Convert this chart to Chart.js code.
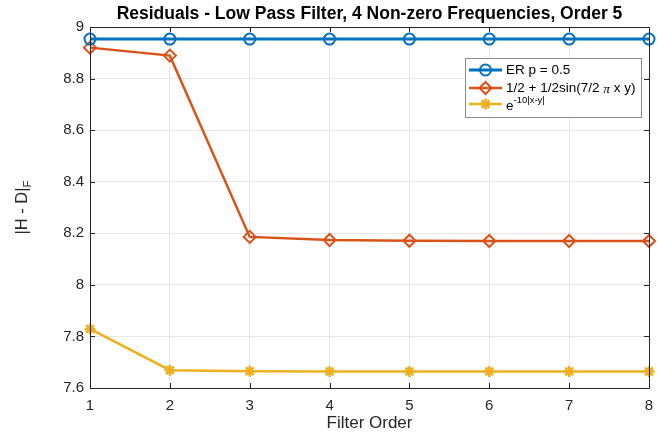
<!DOCTYPE html>
<html>
<head>
<meta charset="utf-8">
<script src="https://cdn.jsdelivr.net/npm/chart.js@4.4.1/dist/chart.umd.min.js"></script>
<style>
  html, body { margin: 0; padding: 0; background: #ffffff; }
  #wrap { width: 658px; height: 434px; }
</style>
</head>
<body>
<div id="wrap"><canvas id="c" width="658" height="434"></canvas></div>
<script>
// Filter orders on the x axis
const filterOrders = [1, 2, 3, 4, 5, 6, 7, 8];

// Residual norm ||H - D||_F per filter order, one array per graph model
const erValues   = [8.953, 8.953, 8.953, 8.953, 8.953, 8.953, 8.953, 8.953];
const sinValues  = [8.920, 8.889, 8.186, 8.174, 8.171, 8.170, 8.170, 8.170];
const expValues  = [7.829, 7.669, 7.665, 7.664, 7.664, 7.664, 7.664, 7.664];

const yTicks = [7.6, 7.8, 8, 8.2, 8.4, 8.6, 8.8, 9];

const BLUE = '#0072BD', ORANGE = '#D95319', YELLOW = '#EDB120';
const AXIS = '#262626';
const FONT = '"Liberation Sans", Arial, Helvetica, sans-serif';

function pts(vals) { return vals.map((v, i) => ({ x: filterOrders[i], y: v })); }

// Box, inward ticks, title, y label with subscript, legend
const decorations = {
  id: 'decorations',
  afterDraw(chart) {
    const { ctx, chartArea: a, scales } = chart;
    const xs = scales.x, ys = scales.y;
    ctx.save();
    ctx.strokeStyle = AXIS;
    ctx.lineWidth = 1;
    // axes box
    ctx.beginPath();
    ctx.rect(Math.round(a.left) + 0.5, Math.round(a.top) + 0.5,
             Math.round(a.right - a.left), Math.round(a.bottom - a.top));
    ctx.stroke();
    // inward tick marks on all four sides
    const tl = 5;
    ctx.beginPath();
    filterOrders.forEach(v => {
      const px = Math.round(xs.getPixelForValue(v)) + 0.5;
      ctx.moveTo(px, a.bottom); ctx.lineTo(px, a.bottom - tl);
      ctx.moveTo(px, a.top); ctx.lineTo(px, a.top + tl);
    });
    yTicks.forEach(v => {
      const py = Math.round(ys.getPixelForValue(v)) + 0.5;
      ctx.moveTo(a.left, py); ctx.lineTo(a.left + tl, py);
      ctx.moveTo(a.right, py); ctx.lineTo(a.right - tl, py);
    });
    ctx.stroke();

    // title
    ctx.fillStyle = '#000';
    ctx.font = 'bold 17.5px ' + FONT;
    ctx.textAlign = 'center';
    ctx.textBaseline = 'middle';
    ctx.fillText('Residuals - Low Pass Filter, 4 Non-zero Frequencies, Order 5', (a.left + a.right) / 2, 14);

    // y axis label |H - D|_F
    ctx.save();
    ctx.translate(22, (a.top + a.bottom) / 2);
    ctx.rotate(-Math.PI / 2);
    ctx.fillStyle = AXIS;
    const main = '|H - D|';
    ctx.font = '16.5px ' + FONT;
    const wMain = ctx.measureText(main).width;
    ctx.font = '11.5px ' + FONT;
    const wSub = ctx.measureText('F').width;
    const x0 = -(wMain + wSub) / 2;
    ctx.textAlign = 'left';
    ctx.textBaseline = 'middle';
    ctx.font = '16.5px ' + FONT;
    ctx.fillText(main, x0, 0);
    ctx.font = '11.5px ' + FONT;
    ctx.fillText('F', x0 + wMain, 6);
    ctx.restore();

    // legend
    const lx = 465.5, ly = 58.5, lw = 176, lh = 59;
    ctx.fillStyle = '#fff';
    ctx.fillRect(lx, ly, lw, lh);
    ctx.strokeStyle = '#8c8c8c';
    ctx.lineWidth = 1;
    ctx.strokeRect(lx, ly, lw, lh);
    const rows = [
      { ds: chart.data.datasets[0], y: 70 },
      { ds: chart.data.datasets[1], y: 88 },
      { ds: chart.data.datasets[2], y: 104 }
    ];
    rows.forEach(r => {
      const ds = r.ds;
      ctx.strokeStyle = ds.borderColor;
      ctx.lineWidth = ds.borderWidth;
      ctx.beginPath();
      ctx.moveTo(469, r.y); ctx.lineTo(502, r.y);
      ctx.stroke();
      ctx.strokeStyle = ds.pointBorderColor;
      ctx.fillStyle = ds.pointBackgroundColor;
      ctx.lineWidth = ds.pointBorderWidth;
      Chart.helpers.drawPoint(ctx, {
        pointStyle: ds.pointStyle, radius: ds.pointRadius, rotation: 0,
        borderWidth: ds.pointBorderWidth
      }, 485.5, r.y);
    });
    ctx.fillStyle = '#000';
    ctx.textAlign = 'left';
    ctx.textBaseline = 'middle';
    ctx.font = '13.5px ' + FONT;
    ctx.fillText('ER p = 0.5', 506, 70);
    // 1/2 + 1/2sin(7/2 π x y)
    let tx = 506;
    const p1 = '1/2 + 1/2sin(7/2 ';
    ctx.fillText(p1, tx, 88);
    tx += ctx.measureText(p1).width;
    ctx.font = 'italic 13.5px "Liberation Serif", "DejaVu Serif", serif';
    ctx.fillText('\u03C0', tx, 89);
    tx += ctx.measureText('\u03C0').width;
    ctx.font = '13.5px ' + FONT;
    ctx.fillText(' x y)', tx, 88);
    // e^{-10|x-y|}
    ctx.fillText('e', 506, 106);
    const we = ctx.measureText('e').width;
    ctx.font = '9.5px ' + FONT;
    ctx.fillText('-10|x-y|', 506 + we, 100);
    ctx.restore();
  }
};

const chart = new Chart(document.getElementById('c'), {
  type: 'line',
  data: {
    datasets: [
      {
        label: 'ER p = 0.5', data: pts(erValues),
        borderColor: BLUE, borderWidth: 3,
        pointStyle: 'circle', pointRadius: 5.5, pointBorderWidth: 2,
        pointBorderColor: BLUE, pointBackgroundColor: 'rgba(0,0,0,0)'
      },
      {
        label: '1/2 + 1/2sin(7/2 \u03C0 x y)', data: pts(sinValues),
        borderColor: ORANGE, borderWidth: 2.5,
        pointStyle: 'rectRot', pointRadius: 6, pointBorderWidth: 2,
        pointBorderColor: ORANGE, pointBackgroundColor: 'rgba(0,0,0,0)'
      },
      {
        label: 'e^-10|x-y|', data: pts(expValues),
        borderColor: YELLOW, borderWidth: 2.5,
        pointStyle: 'star', pointRadius: 5.5, pointBorderWidth: 2.5,
        pointBorderColor: YELLOW, pointBackgroundColor: YELLOW
      }
    ]
  },
  options: {
    responsive: false,
    animation: false,
    clip: false,
    layout: { padding: { top: 27, right: 9, left: 0, bottom: 0 } },
    elements: { line: { tension: 0 } },
    plugins: { legend: { display: false }, title: { display: false }, tooltip: { enabled: false } },
    scales: {
      x: {
        type: 'linear', min: 1, max: 8,
        afterFit(s) { s.height = 46; s.paddingLeft = 0; s.paddingRight = 0; },
        grid: { color: '#e6e6e6', drawTicks: false },
        border: { display: false },
        ticks: {
          stepSize: 1, padding: 9, color: AXIS,
          font: { family: FONT, size: 15 }
        },
        title: {
          display: true, text: 'Filter Order', color: AXIS,
          font: { family: FONT, size: 17 }, padding: { top: 2, bottom: 0 }
        }
      },
      y: {
        type: 'linear', min: 7.6, max: 9,
        afterFit(s) { s.width = 90; s.paddingTop = 0; s.paddingBottom = 0; },
        afterBuildTicks(s) { s.ticks = yTicks.map(v => ({ value: v })); },
        grid: { color: '#e6e6e6', drawTicks: false },
        border: { display: false },
        ticks: {
          padding: 6, color: AXIS,
          font: { family: FONT, size: 15 },
          callback: v => String(Math.round(v * 10) / 10)
        }
      }
    }
  },
  plugins: [decorations]
});
</script>
</body>
</html>
